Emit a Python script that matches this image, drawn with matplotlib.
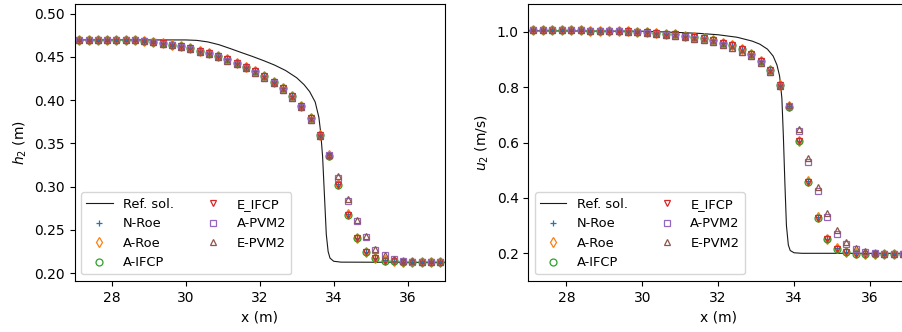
import numpy as np
import matplotlib
matplotlib.use("Agg")
import matplotlib.pyplot as plt

# Cell centres where the numerical solutions are sampled
x_cells = [27.125 + 0.25 * i for i in range(40)]

# Reference solution (fine-grid) for h2 and u2
x_ref = [27.0, 30.0, 30.3, 30.6, 30.9, 31.2, 31.5, 31.8, 32.1, 32.4, 32.7, 33.0,
         33.2, 33.35, 33.5, 33.6, 33.65, 33.7, 33.75, 33.8, 33.85, 33.9, 34.0,
         34.2, 37.0]
h2_ref = [0.4695, 0.4695, 0.4690, 0.4672, 0.4640, 0.4596, 0.4550, 0.4505,
          0.4457, 0.4405, 0.4342, 0.4258, 0.4178, 0.4098, 0.3978, 0.3800,
          0.3620, 0.3350, 0.2900, 0.2450, 0.2250, 0.2175, 0.2138, 0.2128, 0.2125]

x_ref_u = [27.0, 30.0, 30.4, 31.0, 31.5, 32.0, 32.5, 32.9, 33.1, 33.3, 33.45,
           33.55, 33.62, 33.68, 33.72, 33.76, 33.8, 33.85, 33.9, 34.0, 34.2, 37.0]
u2_ref = [1.003, 1.002, 1.000, 0.997, 0.994, 0.989, 0.980, 0.966, 0.955, 0.937,
          0.912, 0.880, 0.840, 0.760, 0.620, 0.450, 0.300, 0.230, 0.210, 0.202,
          0.200, 0.200]

# Layer-2 depth h2 (m)
h2_roe = [0.4695, 0.4695, 0.4695, 0.4695, 0.4695, 0.4695, 0.4692, 0.4684,
          0.4673, 0.4659, 0.4642, 0.4622, 0.4598, 0.4570, 0.4540, 0.4507,
          0.4470, 0.4429, 0.4382, 0.4332, 0.4276, 0.4212, 0.4140, 0.4050,
          0.3935, 0.3790, 0.3600, 0.3362, 0.3030, 0.2680, 0.2412, 0.2248,
          0.2172, 0.2148, 0.2138, 0.2133, 0.2130, 0.2130, 0.2130, 0.2130]
h2_ifcp = [0.4695, 0.4695, 0.4695, 0.4695, 0.4695, 0.4695, 0.4692, 0.4684,
           0.4673, 0.4659, 0.4642, 0.4622, 0.4598, 0.4570, 0.4540, 0.4507,
           0.4470, 0.4429, 0.4382, 0.4332, 0.4276, 0.4212, 0.4140, 0.4050,
           0.3935, 0.3790, 0.3598, 0.3358, 0.3024, 0.2672, 0.2405, 0.2243,
           0.2170, 0.2146, 0.2137, 0.2132, 0.2130, 0.2130, 0.2130, 0.2130]
h2_apvm2 = [0.4695, 0.4695, 0.4695, 0.4695, 0.4695, 0.4694, 0.4689, 0.4680,
            0.4668, 0.4653, 0.4635, 0.4614, 0.4589, 0.4560, 0.4529, 0.4495,
            0.4457, 0.4415, 0.4367, 0.4316, 0.4259, 0.4194, 0.4121, 0.4030,
            0.3915, 0.3772, 0.3590, 0.3365, 0.3105, 0.2838, 0.2605, 0.2415,
            0.2272, 0.2205, 0.2160, 0.2142, 0.2134, 0.2131, 0.2130, 0.2130]
h2_epvm2 = [0.4695, 0.4695, 0.4695, 0.4695, 0.4695, 0.4694, 0.4689, 0.4680,
            0.4668, 0.4653, 0.4635, 0.4614, 0.4589, 0.4560, 0.4529, 0.4495,
            0.4457, 0.4415, 0.4367, 0.4316, 0.4259, 0.4194, 0.4121, 0.4030,
            0.3915, 0.3772, 0.3590, 0.3368, 0.3118, 0.2852, 0.2620, 0.2428,
            0.2283, 0.2212, 0.2164, 0.2145, 0.2136, 0.2132, 0.2130, 0.2130]

# Layer-2 velocity u2 (m/s)
u2_roe = [1.005, 1.005, 1.005, 1.005, 1.005, 1.005, 1.004, 1.004, 1.003, 1.003,
          1.002, 1.000, 0.998, 0.996, 0.993, 0.990, 0.986, 0.981, 0.976, 0.970,
          0.961, 0.951, 0.937, 0.920, 0.896, 0.862, 0.808, 0.731, 0.607, 0.460,
          0.331, 0.253, 0.218, 0.204, 0.200, 0.199, 0.198, 0.198, 0.198, 0.198]
u2_ifcp = [1.005, 1.005, 1.005, 1.005, 1.005, 1.005, 1.004, 1.004, 1.003, 1.003,
           1.002, 1.000, 0.998, 0.996, 0.993, 0.990, 0.986, 0.981, 0.976, 0.970,
           0.961, 0.951, 0.937, 0.920, 0.896, 0.862, 0.807, 0.729, 0.604, 0.456,
           0.328, 0.250, 0.216, 0.203, 0.199, 0.198, 0.198, 0.198, 0.198, 0.198]
u2_apvm2 = [1.005, 1.005, 1.005, 1.005, 1.005, 1.005, 1.004, 1.003, 1.002, 1.001,
            1.000, 0.998, 0.995, 0.993, 0.989, 0.985, 0.981, 0.975, 0.969, 0.962,
            0.953, 0.942, 0.928, 0.911, 0.887, 0.853, 0.803, 0.733, 0.643, 0.530,
            0.424, 0.331, 0.269, 0.234, 0.215, 0.205, 0.201, 0.199, 0.198, 0.198]
u2_epvm2 = [1.005, 1.005, 1.005, 1.005, 1.005, 1.005, 1.004, 1.003, 1.002, 1.001,
            1.000, 0.998, 0.995, 0.993, 0.989, 0.985, 0.981, 0.975, 0.969, 0.962,
            0.953, 0.942, 0.928, 0.911, 0.887, 0.853, 0.804, 0.736, 0.649, 0.545,
            0.440, 0.346, 0.283, 0.241, 0.218, 0.207, 0.202, 0.199, 0.198, 0.198]

schemes = ["N-Roe", "A-Roe", "A-IFCP", "E_IFCP", "A-PVM2", "E-PVM2"]
markers = ["+", "d", "o", "v", "s", "^"]
colors = ["tab:blue", "tab:orange", "tab:green", "tab:red", "tab:purple", "tab:brown"]

h2_sets = [h2_roe, h2_roe, h2_ifcp, h2_ifcp, h2_apvm2, h2_epvm2]
u2_sets = [u2_roe, u2_roe, u2_ifcp, u2_ifcp, u2_apvm2, u2_epvm2]

fig = plt.figure(figsize=(9.02, 3.32), dpi=100)
ax1 = fig.add_axes([0.0828, 0.1536, 0.4102, 0.8343])
ax2 = fig.add_axes([0.5858, 0.1536, 0.4207, 0.8343])


def draw(ax, xr, yr, sets):
    ax.plot(xr, yr, color="#1a1a1a", lw=0.8, label="Ref. sol.")
    for name, mk, c, vals in zip(schemes, markers, colors, sets):
        ax.plot(x_cells, vals, linestyle="none", marker=mk, color=c,
                markerfacecolor="none", markersize=5, markeredgewidth=0.9,
                label=name)
    ax.set_xlim(27, 37)
    ax.set_xticks([28, 30, 32, 34, 36])
    ax.set_xlabel("x (m)")
    ax.legend(loc="lower left", ncol=2, fontsize=9.4)


draw(ax1, x_ref, h2_ref, h2_sets)
ax1.set_ylim(0.191, 0.511)
ax1.set_yticks([0.20, 0.25, 0.30, 0.35, 0.40, 0.45, 0.50])
ax1.set_ylabel("$h_2$ (m)")

draw(ax2, x_ref_u, u2_ref, u2_sets)
ax2.set_ylim(0.1, 1.1)
ax2.set_yticks([0.2, 0.4, 0.6, 0.8, 1.0])
ax2.set_ylabel("$u_2$ (m/s)")

fig.savefig("out.png", dpi=100)
